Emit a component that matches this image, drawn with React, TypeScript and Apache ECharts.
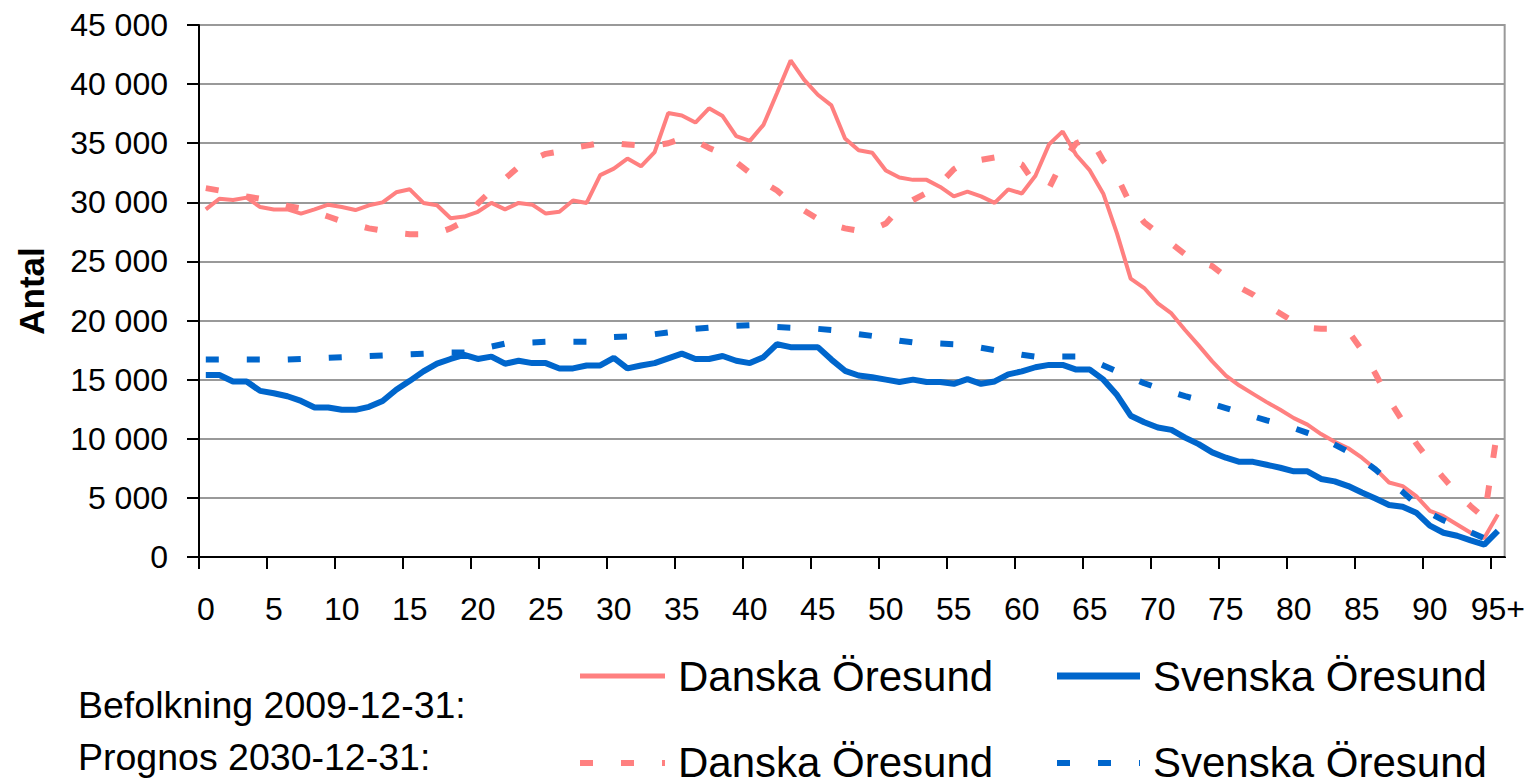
import React, { useEffect, useRef } from "react";
import * as echarts from "echarts";

const ages: string[] = [
  "0", "1", "2", "3", "4", "5", "6", "7", "8", "9",
  "10", "11", "12", "13", "14", "15", "16", "17", "18", "19",
  "20", "21", "22", "23", "24", "25", "26", "27", "28", "29",
  "30", "31", "32", "33", "34", "35", "36", "37", "38", "39",
  "40", "41", "42", "43", "44", "45", "46", "47", "48", "49",
  "50", "51", "52", "53", "54", "55", "56", "57", "58", "59",
  "60", "61", "62", "63", "64", "65", "66", "67", "68", "69",
  "70", "71", "72", "73", "74", "75", "76", "77", "78", "79",
  "80", "81", "82", "83", "84", "85", "86", "87", "88", "89",
  "90", "91", "92", "93", "94", "95+",
];

// Befolkning 2009-12-31
const danska2009: number[] = [
  29400, 30300, 30200, 30400, 29600, 29400, 29400, 29050, 29400, 29800,
  29600, 29350, 29750, 30000, 30850, 31100, 29950, 29750, 28650, 28800,
  29200, 29950, 29400, 29950, 29800, 29050, 29200, 30150, 29950, 32300,
  32850, 33700, 33050, 34250, 37550, 37350, 36750, 37950, 37300, 35600,
  35200, 36550, 39250, 42000, 40350, 39100, 38200, 35400, 34400, 34200,
  32700, 32100, 31900, 31900, 31300, 30500, 30900, 30500, 29950, 31100,
  30750, 32250, 34900, 36000, 34000, 32700, 30700, 27350, 23550, 22750,
  21450, 20600, 19200, 17900, 16550, 15350, 14500, 13800, 13100, 12450,
  11750, 11200, 10400, 9750, 9200, 8400, 7450, 6300, 6000, 5150,
  3900, 3450, 2750, 2050, 1600, 3600,
];

const svenska2009: number[] = [
  15400, 15400, 14850, 14850, 14050, 13850, 13600, 13200, 12650, 12650,
  12450, 12450, 12700, 13200, 14150, 14900, 15700, 16350, 16750, 17100,
  16750, 16950, 16350, 16600, 16400, 16400, 15950, 15950, 16200, 16200,
  16850, 15950, 16200, 16400, 16800, 17200, 16750, 16750, 17000, 16600,
  16400, 16900, 18000, 17750, 17750, 17750, 16700, 15750, 15350, 15200,
  15000, 14800, 15000, 14800, 14800, 14650, 15050, 14650, 14850, 15450,
  15700, 16050, 16250, 16250, 15850, 15850, 15000, 13700, 11950, 11400,
  10950, 10750, 10100, 9550, 8850, 8400, 8050, 8050, 7800, 7550,
  7250, 7250, 6600, 6400, 6000, 5450, 4950, 4400, 4250, 3750,
  2650, 2050, 1800, 1400, 1050, 2200,
];

// Prognos 2030-12-31
const danska2030: number[] = [
  31200, 31000, 30800, 30500, 30300, 30000, 29700, 29500, 29200, 28800,
  28400, 28100, 27800, 27600, 27400, 27300, 27300, 27400, 27800, 28400,
  29900, 31000, 32000, 33000, 33600, 34100, 34300, 34600, 34800, 35000,
  35000, 34900, 34800, 34800, 35000, 35400, 35200, 34600, 34100, 33400,
  32500, 31700, 31000, 30000, 29300, 28600, 28100, 27800, 27600, 27700,
  28200, 29500, 30200, 30800, 31600, 32800, 33500, 33600, 33800, 33700,
  33200, 31500, 31200, 33500, 35000, 35500, 33500, 32200, 29800, 28300,
  27400, 26500, 25600, 25000, 24600, 23700, 22800, 22200, 21300, 20600,
  19900, 19400, 19300, 19300, 19100, 17500, 15500, 13300, 11500, 9600,
  8100, 6700, 5400, 4300, 3300, 11000,
];

const svenska2030: number[] = [
  16700, 16700, 16700, 16700, 16700, 16700, 16700, 16750, 16800, 16850,
  16900, 16950, 17000, 17050, 17100, 17150, 17200, 17250, 17300, 17300,
  17400, 17800, 18050, 18100, 18150, 18200, 18200, 18200, 18200, 18400,
  18600, 18650, 18750, 18850, 19000, 19100, 19300, 19400, 19500, 19550,
  19600, 19550, 19450, 19400, 19350, 19300, 19200, 19000, 18850, 18700,
  18500, 18300, 18150, 18100, 18050, 18000, 17850, 17700, 17500, 17300,
  17100, 16950, 16950, 16950, 16950, 16700, 16200, 15700, 15200, 14700,
  14300, 13950, 13600, 13300, 12950, 12600, 12250, 11900, 11550, 11250,
  10900, 10500, 10100, 9500, 8900, 8250, 7400, 6400, 5500, 4500,
  3700, 3100, 2600, 2100, 1600, 3000,
];

const seriesNames = ["Danska Öresund", "Svenska Öresund"];
const rowLabels = ["Befolkning 2009-12-31:", "Prognos 2030-12-31:"];
const yAxisTitle = "Antal";

const PINK = "#FF8080";
const BLUE = "#0066CC";
const FONT = "'Liberation Sans', Arial, Helvetica, sans-serif";
const DASH = [13, 28];

function fmt(v: number): string {
  const s = String(Math.round(v));
  return s.replace(/\B(?=(\d{3})+(?!\d))/g, " ");
}

export default function App() {
  const ref = useRef<HTMLDivElement>(null);

  useEffect(() => {
    if (!ref.current) return;
    const chart = echarts.init(ref.current, undefined, { renderer: "svg" });

    const legendLine = (x1: number, x2: number, y: number, color: string, width: number, dashed: boolean) => ({
      type: "line",
      silent: true,
      shape: { x1, y1: y, x2, y2: y },
      style: { stroke: color, lineWidth: width, lineDash: dashed ? DASH : null, lineCap: "butt" },
    });
    const legendText = (x: number, y: number, text: string, size: number) => ({
      type: "text",
      silent: true,
      x,
      y,
      style: { text, fill: "#000", font: `${size}px ${FONT}`, align: "left", verticalAlign: "middle" },
    });

    const option: any = {
      animation: false,
      backgroundColor: "#ffffff",
      textStyle: { fontFamily: FONT },
      grid: {
        left: 199,
        top: 25,
        right: 23,
        bottom: 227,
        show: true,
        borderColor: "#999999",
        borderWidth: 2,
        backgroundColor: "transparent",
      },
      xAxis: {
        type: "category",
        data: ages,
        boundaryGap: true,
        axisLine: { show: true, lineStyle: { color: "#000", width: 2 } },
        axisTick: { show: true, interval: 4, length: 12, lineStyle: { color: "#000", width: 2 } },
        axisLabel: { interval: 4, fontSize: 32, color: "#000", margin: 36, fontFamily: FONT },
        splitLine: { show: false },
      },
      yAxis: {
        type: "value",
        min: 0,
        max: 45000,
        interval: 5000,
        axisLine: { show: true, lineStyle: { color: "#000", width: 2 } },
        axisTick: { show: true, length: 12, lineStyle: { color: "#000", width: 2 } },
        axisLabel: { fontSize: 32, color: "#000", margin: 31, fontFamily: FONT, formatter: (v: number) => fmt(v) },
        splitLine: { show: true, lineStyle: { color: "#999999", width: 2 } },
      },
      series: [
        {
          name: seriesNames[0] + " 2009",
          type: "line",
          data: danska2009,
          symbol: "none",
          silent: true,
          lineStyle: { color: PINK, width: 4 },
          itemStyle: { color: PINK },
          z: 2,
        },
        {
          name: seriesNames[1] + " 2009",
          type: "line",
          data: svenska2009,
          symbol: "none",
          silent: true,
          lineStyle: { color: BLUE, width: 6 },
          itemStyle: { color: BLUE },
          z: 3,
        },
        {
          name: seriesNames[0] + " 2030",
          type: "line",
          data: danska2030,
          symbol: "none",
          silent: true,
          lineStyle: { color: PINK, width: 6, type: DASH },
          itemStyle: { color: PINK },
          z: 4,
        },
        {
          name: seriesNames[1] + " 2030",
          type: "line",
          data: svenska2030,
          symbol: "none",
          silent: true,
          lineStyle: { color: BLUE, width: 6, type: DASH },
          itemStyle: { color: BLUE },
          z: 5,
        },
      ],
      graphic: [
        {
          type: "rect",
          silent: true,
          shape: { x: 1501, y: 558, width: 12, height: 14 },
          style: { fill: "#ffffff" },
          z: 100,
        },
        {
          type: "text",
          silent: true,
          x: 31,
          y: 291,
          rotation: Math.PI / 2,
          style: {
            text: yAxisTitle,
            fill: "#000",
            font: `bold 35px ${FONT}`,
            align: "center",
            verticalAlign: "middle",
          },
        },
        legendLine(580, 665, 676, PINK, 5, false),
        legendText(678, 676, seriesNames[0], 42),
        legendLine(1057, 1140, 676, BLUE, 7, false),
        legendText(1153, 676, seriesNames[1], 42),
        legendLine(580, 665, 763, PINK, 6, true),
        legendText(678, 762, seriesNames[0], 42),
        legendLine(1057, 1140, 763, BLUE, 6, true),
        legendText(1153, 762, seriesNames[1], 42),
        legendText(78, 705, rowLabels[0], 37.5),
        legendText(78, 757, rowLabels[1], 37.5),
      ],
    };

    chart.setOption(option);
    return () => chart.dispose();
  }, []);

  return (
    <div
      ref={ref}
      style={{ position: "fixed", left: 0, top: 0, width: "1528px", height: "784px", background: "#fff" }}
    />
  );
}
